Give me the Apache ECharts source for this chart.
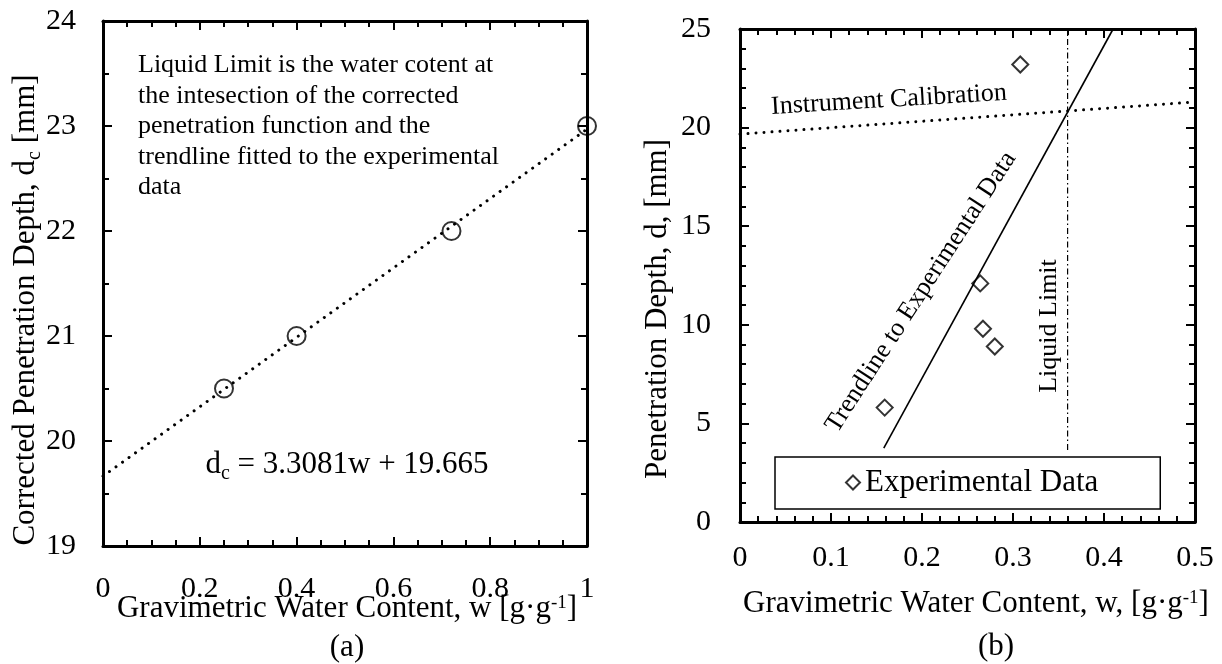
<!DOCTYPE html>
<html>
<head>
<meta charset="utf-8">
<script src="https://cdn.jsdelivr.net/npm/echarts@6/dist/echarts.min.js"></script>
<style>
html,body{margin:0;padding:0;background:#fff;}
#chart{width:1222px;height:664px;}
</style>
</head>
<body>
<div id="chart"></div>
<script>
// ---------- data ----------
// (a) corrected penetration depth
const leftW = [0.25, 0.40, 0.72, 1.00];
const leftDc = [20.5, 21.0, 22.0, 23.0];
const leftTrendW = [0, 1];
const leftTrendDc = [19.665, 22.97];
// (b) experimental data
const expW = [0.308, 0.264, 0.267, 0.280, 0.159];
const expD = [23.2, 12.1, 9.8, 8.9, 5.8];
const calibW = [0, 0.5];
const calibD = [19.67, 21.3];
const trendW = [0.158, 0.41];
const trendD = [3.75, 25];
const llW = [0.36, 0.36];
const llD = [3.65, 25];
// tick labels
const leftXTickLabels = ['0', '0.2', '0.4', '0.6', '0.8', '1'];
const leftYTickLabels = ['19', '20', '21', '22', '23', '24'];
const rightXTickLabels = ['0', '0.1', '0.2', '0.3', '0.4', '0.5'];
const rightYTickLabels = ['0', '5', '10', '15', '20', '25'];

const pair = (xs, ys) => xs.map((x, i) => [x, ys[i]]);
const FONT = "'Times New Roman', 'Liberation Serif', serif";

function axis(pos, gridIndex, min, max, interval, minorSplit, labels, margin) {
  const isX = pos === 'bottom' || pos === 'top';
  const showLabel = pos === 'bottom' || pos === 'left';
  return {
    type: 'value', gridIndex, position: pos, min, max, interval,
    axisLine: { show: true, onZero: false, lineStyle: { color: '#000', width: 3 } },
    axisTick: { show: true, inside: true, length: 9, lineStyle: { color: '#000', width: 2 } },
    minorTick: { show: true, splitNumber: minorSplit, length: 6, lineStyle: { color: '#000', width: 2 } },
    splitLine: { show: false },
    minorSplitLine: { show: false },
    axisLabel: {
      show: showLabel, margin: margin, color: '#000', fontSize: 30, fontFamily: FONT,
      formatter: (v, i) => labels[i]
    }
  };
}

const chart = echarts.init(document.getElementById('chart'), null, { renderer: 'canvas' });

const dotted = { color: '#000', width: 3, type: [0.01, 8], cap: 'round' };

const option = {
  backgroundColor: '#fff',
  animation: false,
  grid: [
    { left: 103, top: 21, width: 484, height: 525 },
    { left: 740, top: 29, width: 455, height: 493 }
  ],
  xAxis: [
    axis('bottom', 0, 0, 1, 0.2, 4, leftXTickLabels, 28),
    axis('top', 0, 0, 1, 0.2, 4, leftXTickLabels, 28),
    axis('bottom', 1, 0, 0.5, 0.1, 5, rightXTickLabels, 21),
    axis('top', 1, 0, 0.5, 0.1, 5, rightXTickLabels, 21)
  ],
  yAxis: [
    axis('left', 0, 19, 24, 1, 2, leftYTickLabels, 27),
    axis('right', 0, 19, 24, 1, 2, leftYTickLabels, 27),
    axis('left', 1, 0, 25, 5, 5, rightYTickLabels, 29),
    axis('right', 1, 0, 25, 5, 5, rightYTickLabels, 29)
  ],
  legend: {
    show: true,
    data: ['Experimental Data'],
    left: 775, top: 457,
    orient: 'horizontal',
    backgroundColor: '#fff',
    borderColor: '#000', borderWidth: 1.5,
    padding: [10, 62, 11, 70],
    icon: 'diamond',
    itemWidth: 14, itemHeight: 14,
    itemStyle: { color: 'rgba(0,0,0,0)', borderColor: '#000', borderWidth: 2 },
    textStyle: { color: '#000', fontSize: 31, fontFamily: FONT },
    selectedMode: false
  },
  series: [
    {
      name: 'Trendline (a)', type: 'line', xAxisIndex: 0, yAxisIndex: 0,
      data: pair(leftTrendW, leftTrendDc), symbol: 'none', silent: true,
      lineStyle: dotted
    },
    {
      name: 'Corrected Depth', type: 'scatter', xAxisIndex: 0, yAxisIndex: 0,
      data: pair(leftW, leftDc), symbol: 'circle', symbolSize: 18,
      itemStyle: { color: 'rgba(0,0,0,0)', borderColor: '#000', borderWidth: 2 }
    },
    {
      name: 'Instrument Calibration', type: 'line', xAxisIndex: 2, yAxisIndex: 2,
      data: pair(calibW, calibD), symbol: 'none', silent: true,
      lineStyle: dotted
    },
    {
      name: 'Trendline to Experimental Data', type: 'line', xAxisIndex: 2, yAxisIndex: 2,
      data: pair(trendW, trendD), symbol: 'none', silent: true,
      lineStyle: { color: '#000', width: 1.6 }
    },
    {
      name: 'Liquid Limit', type: 'line', xAxisIndex: 2, yAxisIndex: 2,
      data: pair(llW, llD), symbol: 'none', silent: true,
      lineStyle: { color: '#000', width: 1.2, type: [6, 3, 1.5, 3] }
    },
    {
      name: 'Experimental Data', type: 'scatter', xAxisIndex: 2, yAxisIndex: 2,
      data: pair(expW, expD), symbol: 'diamond', symbolSize: 16,
      itemStyle: { color: 'rgba(0,0,0,0)', borderColor: '#000', borderWidth: 2 }
    }
  ],
  graphic: [
    // (a) axis titles
    {
      type: 'text', x: 26, y: 310, rotation: Math.PI / 2,
      style: {
        text: 'Corrected Penetration Depth, d{sub|c} [mm]',
        fill: '#000', font: '31px ' + FONT, align: 'center', verticalAlign: 'middle',
        rich: {
          sub: { fontSize: 20, fontFamily: FONT, lineHeight: 20, verticalAlign: 'bottom', fill: '#000' }
        },
        lineHeight: 38
      }
    },
    {
      type: 'text', x: 347, y: 609,
      style: {
        text: 'Gravimetric Water Content, w [g·g{sup|-1}]',
        fill: '#000', font: '31px ' + FONT, align: 'center', verticalAlign: 'middle',
        lineHeight: 31,
        rich: { sup: { fontSize: 19, fontFamily: FONT, lineHeight: 19, verticalAlign: 'top', fill: '#000' } }
      }
    },
    {
      type: 'text', x: 347, y: 648,
      style: { text: '(a)', fill: '#000', font: '31px ' + FONT, align: 'center', verticalAlign: 'middle' }
    },
    // (a) annotations
    {
      type: 'text', x: 138, y: 50,
      style: {
        text: 'Liquid Limit is the water cotent at\nthe intesection of the corrected\npenetration function and the\ntrendline fitted to the experimental\ndata',
        fill: '#000', font: '26px ' + FONT, lineHeight: 30.5, align: 'left', verticalAlign: 'top'
      }
    },
    {
      type: 'text', x: 347, y: 465,
      style: {
        text: 'd{sub|c} = 3.3081w + 19.665',
        fill: '#000', font: '31px ' + FONT, align: 'center', verticalAlign: 'middle',
        lineHeight: 38,
        rich: { sub: { fontSize: 20, fontFamily: FONT, lineHeight: 20, verticalAlign: 'bottom', fill: '#000' } }
      }
    },
    // (b) axis titles
    {
      type: 'text', x: 658, y: 309, rotation: Math.PI / 2,
      style: {
        text: 'Penetration Depth, d, [mm]',
        fill: '#000', font: '31px ' + FONT, align: 'center', verticalAlign: 'middle'
      }
    },
    {
      type: 'text', x: 976, y: 604,
      style: {
        text: 'Gravimetric Water Content, w, [g·g{sup|-1}]',
        fill: '#000', font: '31px ' + FONT, align: 'center', verticalAlign: 'middle',
        lineHeight: 31,
        rich: { sup: { fontSize: 19, fontFamily: FONT, lineHeight: 19, verticalAlign: 'top', fill: '#000' } }
      }
    },
    {
      type: 'text', x: 996, y: 647,
      style: { text: '(b)', fill: '#000', font: '31px ' + FONT, align: 'center', verticalAlign: 'middle' }
    },
    // (b) annotations
    {
      type: 'text', x: 889, y: 100, rotation: 0.06,
      style: { text: 'Instrument Calibration', fill: '#000', font: '26px ' + FONT, align: 'center', verticalAlign: 'middle' }
    },
    {
      type: 'text', x: 921, y: 292, rotation: 57 * Math.PI / 180,
      style: { text: 'Trendline to Experimental Data', fill: '#000', font: '26px ' + FONT, align: 'center', verticalAlign: 'middle' }
    },
    {
      type: 'text', x: 1049, y: 326, rotation: Math.PI / 2,
      style: { text: 'Liquid Limit', fill: '#000', font: '26px ' + FONT, align: 'center', verticalAlign: 'middle' }
    }
  ]
};
chart.setOption(option);
</script>
</body>
</html>
